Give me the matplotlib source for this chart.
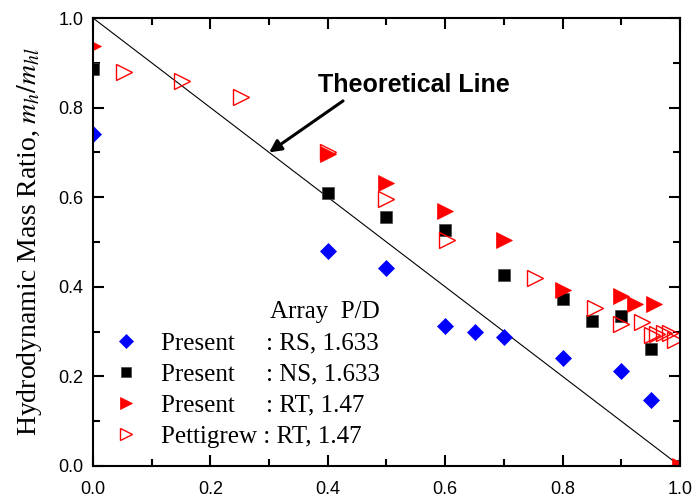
import numpy as np
import matplotlib
matplotlib.use('Agg')
import matplotlib.pyplot as plt
from matplotlib.ticker import MultipleLocator

plt.rcParams['mathtext.fontset'] = 'stix'

# Present, RS array, P/D = 1.633
rs_x = [0.0, 0.4, 0.5, 0.6, 0.65, 0.7, 0.8, 0.9, 0.95, 1.0]
rs_y = [0.74, 0.48, 0.442, 0.313, 0.298, 0.287, 0.242, 0.213, 0.147, 0.0]

# Present, NS array, P/D = 1.633
ns_x = [0.0, 0.4, 0.5, 0.6, 0.7, 0.8, 0.85, 0.9, 0.95, 1.0]
ns_y = [0.886, 0.609, 0.556, 0.526, 0.426, 0.372, 0.324, 0.335, 0.261, 0.0]

# Present, RT array, P/D = 1.47
rt_x = [0.0, 0.4, 0.5, 0.6, 0.7, 0.8, 0.9, 0.923, 0.955, 1.0]
rt_y = [0.938, 0.697, 0.631, 0.569, 0.504, 0.393, 0.379, 0.361, 0.361, 0.0]

# Pettigrew, RT array, P/D = 1.47
pt_x = [0.052, 0.151, 0.252, 0.4, 0.5, 0.603, 0.753, 0.855, 0.9, 0.935,
        0.952, 0.96, 0.972, 0.983, 0.991]
pt_y = [0.88, 0.86, 0.823, 0.70, 0.597, 0.504, 0.419, 0.352, 0.318, 0.322,
        0.292, 0.295, 0.296, 0.296, 0.281]

theo_x = [0.0, 1.0]
theo_y = [1.0, 0.0]

labels = ["Present     : RS, 1.633",
          "Present     : NS, 1.633",
          "Present     : RT, 1.47",
          "Pettigrew : RT, 1.47"]

fig = plt.figure(figsize=(6.96, 4.98), dpi=100)
ax = fig.add_axes([0.1336, 0.0643, 0.8434, 0.8995])

ax.plot(theo_x, theo_y, color='k', lw=0.8, zorder=1)

h1, = ax.plot(rs_x, rs_y, 'D', ms=8.6, color='#0000ff', mec='#0000ff', mew=0.5, ls='none', label=labels[0])
h2, = ax.plot(ns_x, ns_y, 's', ms=9.2, color='k', mec='#444444', mew=0.5, ls='none', label=labels[1])
h3, = ax.plot(rt_x, rt_y, '>', ms=11, color='#ff0000', mec='#ff0000', mew=0.5, ls='none', label=labels[2])
h4, = ax.plot(pt_x, pt_y, '>', ms=11, mfc='none', mec='#ff0000', mew=1.0, ls='none', label=labels[3])

ax.set_xlim(0, 1)
ax.set_ylim(0, 1)
ax.xaxis.set_major_locator(MultipleLocator(0.2))
ax.xaxis.set_minor_locator(MultipleLocator(0.1))
ax.yaxis.set_major_locator(MultipleLocator(0.2))
ax.yaxis.set_minor_locator(MultipleLocator(0.1))
ax.xaxis.set_major_formatter(matplotlib.ticker.FormatStrFormatter('%.1f'))
ax.yaxis.set_major_formatter(matplotlib.ticker.FormatStrFormatter('%.1f'))
ax.tick_params(which='both', direction='in', top=True, right=True, width=1.5)
ax.tick_params(which='major', length=8, labelsize=13)
ax.tick_params(axis='x', which='major', pad=11)
ax.tick_params(axis='y', which='major', pad=7)
ax.tick_params(which='minor', length=5)
for lab in ax.get_xticklabels() + ax.get_yticklabels():
    lab.set_family('Liberation Sans')
for s in ax.spines.values():
    s.set_linewidth(1.5)

ax.set_ylabel(r"Hydrodynamic Mass Ratio, $m_h/m_{hl}$", family='Liberation Serif',
              fontsize=20, labelpad=10)

ax.text(0.383, 0.85, "Theoretical Line", family='Liberation Sans', fontweight='bold',
        fontsize=18, va='center', ha='left')
ax.annotate('', xy=(0.30, 0.70), xytext=(0.426, 0.815),
            arrowprops=dict(arrowstyle='-|>', color='k', lw=2.2, mutation_scale=18,
                            shrinkA=0, shrinkB=0))

leg = ax.legend(handles=[h1, h2, h3, h4], loc='lower left', bbox_to_anchor=(0.035, 0.04),
                frameon=False, title="Array  P/D", alignment='right',
                prop={'family': 'Liberation Serif', 'size': 18},
                title_fontproperties={'family': 'Liberation Serif', 'size': 18},
                handlelength=1.0, handletextpad=0.9, labelspacing=0.35, borderpad=0,
                borderaxespad=0, markerscale=0.8)

fig.savefig('out.png', dpi=100)
